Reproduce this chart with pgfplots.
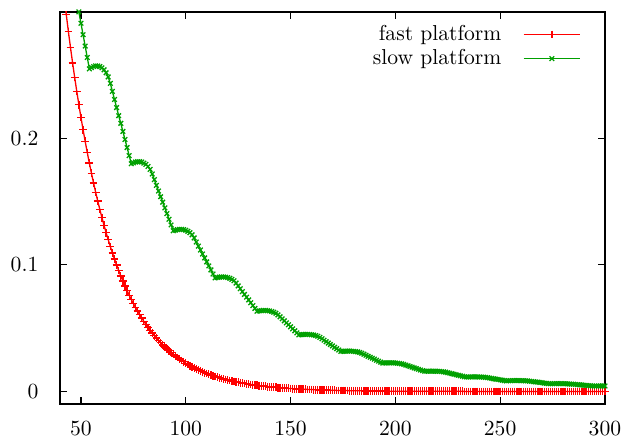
\documentclass[border=0pt]{standalone}
\usepackage{pgfplots}
\usepackage{pgfplotstable}
\pgfplotsset{compat=1.18}
\definecolor{gpred}{RGB}{255,0,0}
\definecolor{gpgreen}{RGB}{0,160,0}

\pgfplotstableread[row sep=\\]{
x y\\
42 0.3115\\ 43 0.2977\\ 44 0.2844\\ 45 0.2718\\ 46 0.2597\\ 47 0.2482\\ 48 0.2372\\ 49 0.2266\\
50 0.2165\\ 51 0.2069\\ 52 0.1977\\ 53 0.1889\\ 54 0.1805\\ 55 0.1725\\ 56 0.1648\\ 57 0.1575\\ 58 0.1505\\ 59 0.1438\\
60 0.1374\\ 61 0.1313\\ 62 0.1255\\ 63 0.1199\\ 64 0.1146\\ 65 0.1095\\ 66 0.1046\\ 67 0.1000\\ 68 0.0956\\ 69 0.0913\\
70 0.0872\\ 71 0.0834\\ 72 0.0797\\ 73 0.0761\\ 74 0.0727\\ 75 0.0695\\ 76 0.0664\\ 77 0.0635\\ 78 0.0607\\ 79 0.0580\\
80 0.0554\\ 81 0.0529\\ 82 0.0506\\ 83 0.0483\\ 84 0.0462\\ 85 0.0441\\ 86 0.0422\\ 87 0.0403\\ 88 0.0385\\ 89 0.0368\\
90 0.0352\\ 91 0.0336\\ 92 0.0321\\ 93 0.0307\\ 94 0.0293\\ 95 0.0280\\ 96 0.0268\\ 97 0.0256\\ 98 0.0244\\ 99 0.0234\\
100 0.0223\\ 101 0.0213\\ 102 0.0204\\ 103 0.0195\\ 104 0.0186\\ 105 0.0178\\ 106 0.0170\\ 107 0.0163\\ 108 0.0155\\ 109 0.0148\\
110 0.0142\\ 111 0.0135\\ 112 0.0129\\ 113 0.0124\\ 114 0.0118\\ 115 0.0113\\ 116 0.0108\\ 117 0.0103\\ 118 0.0099\\ 119 0.0094\\
120 0.0090\\ 121 0.0086\\ 122 0.0082\\ 123 0.0079\\ 124 0.0075\\ 125 0.0072\\ 126 0.0069\\ 127 0.0066\\ 128 0.0063\\ 129 0.0060\\
130 0.0057\\ 131 0.0055\\ 132 0.0052\\ 133 0.0050\\ 134 0.0048\\ 135 0.0046\\ 136 0.0044\\ 137 0.0042\\ 138 0.0040\\ 139 0.0038\\
140 0.0036\\ 141 0.0035\\ 142 0.0033\\ 143 0.0032\\ 144 0.0030\\ 145 0.0029\\ 146 0.0028\\ 147 0.0027\\ 148 0.0025\\ 149 0.0024\\
150 0.0023\\ 151 0.0022\\ 152 0.0021\\ 153 0.0020\\ 154 0.0019\\ 155 0.0018\\ 156 0.0017\\ 157 0.0017\\ 158 0.0016\\ 159 0.0015\\
160 0.0015\\ 161 0.0014\\ 162 0.0013\\ 163 0.0013\\ 164 0.0012\\ 165 0.0012\\ 166 0.0011\\ 167 0.0011\\ 168 0.0010\\ 169 0.0010\\
170 0.0009\\ 171 0.0009\\ 172 0.0008\\ 173 0.0008\\ 174 0.0008\\ 175 0.0007\\ 176 0.0007\\ 177 0.0007\\ 178 0.0006\\ 179 0.0006\\
180 0.0006\\ 181 0.0006\\ 182 0.0005\\ 183 0.0005\\ 184 0.0005\\ 185 0.0005\\ 186 0.0004\\ 187 0.0004\\ 188 0.0004\\ 189 0.0004\\
190 0.0004\\ 191 0.0003\\ 192 0.0003\\ 193 0.0003\\ 194 0.0003\\ 195 0.0003\\ 196 0.0002\\ 197 0.0002\\ 198 0.0002\\ 199 0.0002\\
200 0.0002\\ 201 0.0002\\ 202 0.0002\\ 203 0.0002\\ 204 0.0002\\ 205 0.0002\\ 206 0.0001\\ 207 0.0001\\ 208 0.0001\\ 209 0.0001\\
210 0.0001\\ 211 0.0001\\ 212 0.0001\\ 213 0.0001\\ 214 0.0001\\ 215 0.0001\\ 216 0.0001\\ 217 0.0001\\ 218 0.0001\\ 219 0.0001\\
220 0.0001\\ 221 0.0001\\ 222 0.0001\\ 223 0.0001\\ 224 0.0001\\ 225 0.0001\\ 226 0.0001\\ 227 0.0001\\ 228 0.0001\\ 229 0.0001\\
230 0.0001\\ 231 0.0001\\ 232 0.0001\\ 233 0\\ 234 0\\ 235 0\\ 236 0\\ 237 0\\ 238 0\\ 239 0\\
240 0\\ 241 0\\ 242 0\\ 243 0\\ 244 0\\ 245 0\\ 246 0\\ 247 0\\ 248 0\\ 249 0\\
250 0\\ 251 0\\ 252 0\\ 253 0\\ 254 0\\ 255 0\\ 256 0\\ 257 0\\ 258 0\\ 259 0\\
260 0\\ 261 0\\ 262 0\\ 263 0\\ 264 0\\ 265 0\\ 266 0\\ 267 0\\ 268 0\\ 269 0\\
270 0\\ 271 0\\ 272 0\\ 273 0\\ 274 0\\ 275 0\\ 276 0\\ 277 0\\ 278 0\\ 279 0\\
280 0\\ 281 0\\ 282 0\\ 283 0\\ 284 0\\ 285 0\\ 286 0\\ 287 0\\ 288 0\\ 289 0\\
290 0\\ 291 0\\ 292 0\\ 293 0\\ 294 0\\ 295 0\\ 296 0\\ 297 0\\ 298 0\\ 299 0\\
300 0\\
}\fastdata

\pgfplotstableread[row sep=\\]{
x y\\
48 0.309\\ 49 0.300\\ 50 0.291\\ 51 0.282\\ 52 0.273\\ 53 0.264\\
54 0.2550\\ 55 0.2560\\ 56 0.2568\\ 57 0.2573\\ 58 0.2573\\ 59 0.2568\\ 60 0.2558\\ 61 0.2542\\ 62 0.2519\\ 63 0.2486\\
64 0.2435\\ 65 0.2372\\ 66 0.2308\\ 67 0.2244\\ 68 0.2180\\ 69 0.2119\\ 70 0.2055\\ 71 0.1992\\ 72 0.1928\\ 73 0.1864\\
74 0.1800\\ 75 0.1807\\ 76 0.1813\\ 77 0.1816\\ 78 0.1816\\ 79 0.1813\\ 80 0.1805\\ 81 0.1795\\ 82 0.1778\\ 83 0.1755\\
84 0.1719\\ 85 0.1674\\ 86 0.1629\\ 87 0.1584\\ 88 0.1539\\ 89 0.1496\\ 90 0.1451\\ 91 0.1406\\ 92 0.1361\\ 93 0.1316\\
94 0.1270\\ 95 0.1275\\ 96 0.1279\\ 97 0.1281\\ 98 0.1281\\ 99 0.1279\\ 100 0.1274\\ 101 0.1266\\ 102 0.1255\\ 103 0.1238\\
104 0.1213\\ 105 0.1181\\ 106 0.1149\\ 107 0.1118\\ 108 0.1086\\ 109 0.1055\\ 110 0.1024\\ 111 0.0992\\ 112 0.0960\\ 113 0.0928\\
114 0.0897\\ 115 0.0901\\ 116 0.0903\\ 117 0.0905\\ 118 0.0905\\ 119 0.0903\\ 120 0.0900\\ 121 0.0894\\ 122 0.0886\\ 123 0.0875\\
124 0.0857\\ 125 0.0834\\ 126 0.0812\\ 127 0.0789\\ 128 0.0767\\ 129 0.0745\\ 130 0.0723\\ 131 0.0701\\ 132 0.0678\\ 133 0.0656\\
134 0.0634\\ 135 0.0637\\ 136 0.0638\\ 137 0.0640\\ 138 0.0640\\ 139 0.0638\\ 140 0.0636\\ 141 0.0632\\ 142 0.0626\\ 143 0.0618\\
144 0.0605\\ 145 0.0590\\ 146 0.0574\\ 147 0.0558\\ 148 0.0542\\ 149 0.0527\\ 150 0.0511\\ 151 0.0495\\ 152 0.0479\\ 153 0.0463\\
154 0.0447\\ 155 0.0449\\ 156 0.0450\\ 157 0.0451\\ 158 0.0451\\ 159 0.0450\\ 160 0.0448\\ 161 0.0446\\ 162 0.0442\\ 163 0.0436\\
164 0.0427\\ 165 0.0416\\ 166 0.0405\\ 167 0.0393\\ 168 0.0382\\ 169 0.0371\\ 170 0.0360\\ 171 0.0349\\ 172 0.0338\\ 173 0.0327\\
174 0.0316\\ 175 0.0317\\ 176 0.0318\\ 177 0.0319\\ 178 0.0319\\ 179 0.0318\\ 180 0.0317\\ 181 0.0315\\ 182 0.0312\\ 183 0.0308\\
184 0.0302\\ 185 0.0294\\ 186 0.0286\\ 187 0.0278\\ 188 0.0270\\ 189 0.0263\\ 190 0.0255\\ 191 0.0247\\ 192 0.0239\\ 193 0.0231\\
194 0.0224\\ 195 0.0225\\ 196 0.0226\\ 197 0.0226\\ 198 0.0226\\ 199 0.0226\\ 200 0.0225\\ 201 0.0223\\ 202 0.0221\\ 203 0.0218\\
204 0.0214\\ 205 0.0208\\ 206 0.0203\\ 207 0.0197\\ 208 0.0192\\ 209 0.0186\\ 210 0.0181\\ 211 0.0175\\ 212 0.0169\\ 213 0.0164\\
214 0.0159\\ 215 0.0160\\ 216 0.0160\\ 217 0.0160\\ 218 0.0160\\ 219 0.0160\\ 220 0.0159\\ 221 0.0159\\ 222 0.0157\\ 223 0.0155\\
224 0.0152\\ 225 0.0148\\ 226 0.0144\\ 227 0.0140\\ 228 0.0136\\ 229 0.0132\\ 230 0.0128\\ 231 0.0124\\ 232 0.0120\\ 233 0.0116\\
234 0.0114\\ 235 0.0114\\ 236 0.0115\\ 237 0.0115\\ 238 0.0115\\ 239 0.0115\\ 240 0.0114\\ 241 0.0114\\ 242 0.0113\\ 243 0.0111\\
244 0.0109\\ 245 0.0106\\ 246 0.0103\\ 247 0.0100\\ 248 0.0097\\ 249 0.0095\\ 250 0.0092\\ 251 0.0089\\ 252 0.0086\\ 253 0.0083\\
254 0.0085\\ 255 0.0085\\ 256 0.0086\\ 257 0.0086\\ 258 0.0086\\ 259 0.0086\\ 260 0.0085\\ 261 0.0085\\ 262 0.0084\\ 263 0.0083\\
264 0.0081\\ 265 0.0079\\ 266 0.0077\\ 267 0.0075\\ 268 0.0073\\ 269 0.0071\\ 270 0.0069\\ 271 0.0066\\ 272 0.0064\\ 273 0.0062\\
274 0.0061\\ 275 0.0061\\ 276 0.0062\\ 277 0.0062\\ 278 0.0062\\ 279 0.0062\\ 280 0.0061\\ 281 0.0061\\ 282 0.0060\\ 283 0.0059\\
284 0.0058\\ 285 0.0057\\ 286 0.0055\\ 287 0.0054\\ 288 0.0052\\ 289 0.0051\\ 290 0.0049\\ 291 0.0048\\ 292 0.0046\\ 293 0.0045\\
294 0.0043\\ 295 0.0043\\ 296 0.0043\\ 297 0.0043\\ 298 0.0043\\ 299 0.0043\\ 300 0.0043\\
}\slowdata

\begin{document}
\begin{tikzpicture}
\useasboundingbox (-27.7bp,-15.1bp) rectangle (260.3bp,186.5bp);
\begin{axis}[
    at={(0,0)}, anchor=south west,
    scale only axis,
    width=251.5bp, height=181bp,
    xmin=40, xmax=300,
    ymin=-0.01, ymax=0.3,
    xtick={50,100,150,200,250,300},
    ytick={0,0.1,0.2},
    yticklabels={0,0.1,0.2},
    tick align=inside,
    major tick length=3.3bp,
    axis line style={line width=0.8pt},
    every tick/.style={black, line width=0.5pt},
    yticklabel style={xshift=-6.5bp},
    xticklabel style={yshift=-4.5bp},
    clip=true,
    legend plot pos=right,
    legend cell align=right,
    legend image code/.code={
        \draw[mark repeat=2,mark phase=2,#1]
            plot coordinates {(0bp,0bp) (13bp,0bp) (26bp,0bp)};},
    legend style={at={(1,1)}, anchor=north east, draw=none, fill=none,
        xshift=-8bp, yshift=-2bp, row sep=-1.4bp,
        /tikz/every odd column/.append style={column sep=8bp}},
]
\addplot[gpred, line width=0.6pt, mark=+, mark size=1.8bp,
    mark options={gpred, line width=0.6pt}] table[x=x, y=y] {\fastdata};
\addlegendentry{fast platform}
\addplot[gpgreen, line width=0.6pt, mark=x, mark size=1.5bp,
    mark options={gpgreen, line width=0.6pt}] table[x=x, y=y] {\slowdata};
\addlegendentry{slow platform}
\end{axis}
\end{tikzpicture}
\end{document}
